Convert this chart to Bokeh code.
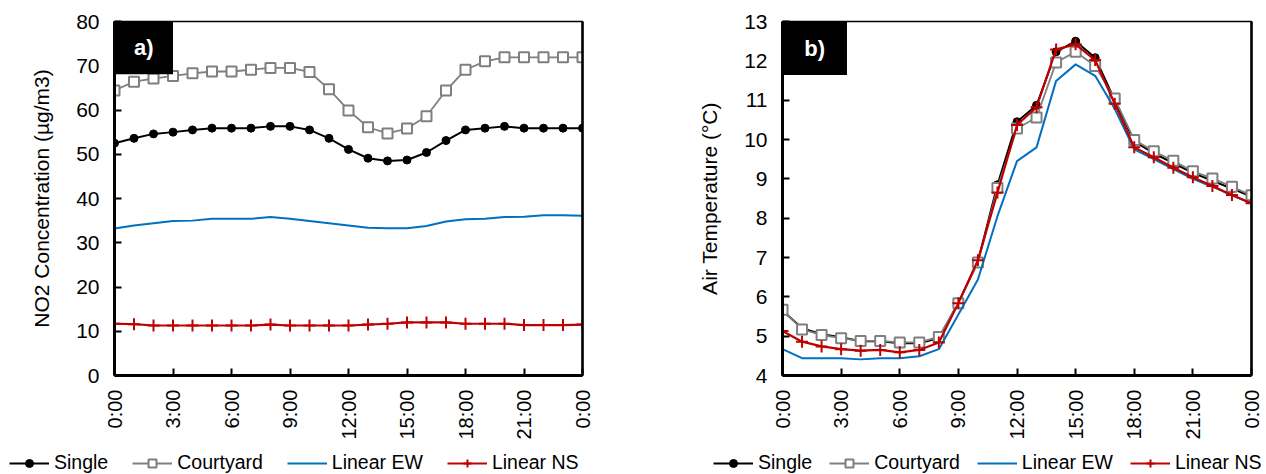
from bokeh.plotting import figure
from bokeh.models import Range1d, FixedTicker, BoxAnnotation, Label, Legend, LegendItem, LinearAxis
from bokeh.layouts import row, column
from bokeh.embed import file_html
from bokeh.resources import INLINE
import math

# ---------------- data ----------------
hours = list(range(25))
tick_hours = [0, 3, 6, 9, 12, 15, 18, 21, 24]
tick_labels = ["0:00", "3:00", "6:00", "9:00", "12:00", "15:00", "18:00", "21:00", "0:00"]
series_names = ["Single", "Courtyard", "Linear EW", "Linear NS"]

no2_single = [52.5, 53.6, 54.6, 55.0, 55.5, 55.9, 55.9, 55.9, 56.3, 56.3, 55.5, 53.6, 51.1,
              49.1, 48.5, 48.7, 50.4, 53.1, 55.5, 55.9, 56.3, 55.9, 55.9, 55.9, 55.9]
no2_courtyard = [64.4, 66.4, 67.1, 67.7, 68.3, 68.7, 68.7, 69.1, 69.5, 69.5, 68.6, 64.7, 59.9,
                 56.1, 54.7, 55.8, 58.6, 64.4, 69.1, 71.0, 71.9, 71.9, 71.9, 71.9, 71.9]
no2_ew = [33.2, 33.9, 34.4, 34.9, 35.0, 35.4, 35.4, 35.4, 35.8, 35.4, 34.9, 34.4, 33.9,
          33.4, 33.3, 33.3, 33.8, 34.8, 35.3, 35.4, 35.8, 35.9, 36.2, 36.2, 36.1]
no2_ns = [11.7, 11.6, 11.3, 11.3, 11.3, 11.3, 11.3, 11.3, 11.5, 11.3, 11.3, 11.3, 11.3,
          11.5, 11.7, 12.0, 12.0, 12.0, 11.7, 11.7, 11.7, 11.4, 11.4, 11.4, 11.5]

t_single = [5.65, 5.2, 5.05, 4.97, 4.87, 4.87, 4.82, 4.82, 4.95, 5.85, 6.9, 8.85, 10.45,
            10.87, 12.23, 12.5, 12.08, 11.0, 9.95, 9.65, 9.4, 9.15, 8.95, 8.75, 8.55]
t_courtyard = [5.67, 5.17, 5.03, 4.95, 4.88, 4.88, 4.84, 4.84, 4.98, 5.84, 6.87, 8.77, 10.28,
               10.56, 11.96, 12.23, 11.87, 11.04, 9.99, 9.70, 9.46, 9.19, 9.01, 8.8, 8.58]
t_ew = [4.67, 4.44, 4.44, 4.44, 4.41, 4.44, 4.44, 4.49, 4.67, 5.55, 6.44, 8.05, 9.45,
        9.8, 11.49, 11.91, 11.62, 10.78, 9.75, 9.5, 9.25, 9.0, 8.8, 8.58, 8.37]
t_ns = [5.13, 4.86, 4.74, 4.67, 4.63, 4.65, 4.59, 4.65, 4.84, 5.84, 6.93, 8.65, 10.37,
        10.82, 12.29, 12.42, 12.02, 10.91, 9.8, 9.55, 9.28, 9.04, 8.82, 8.59, 8.38]

FONT = "Liberation Sans"
MAIN_H = 444
LEG_H = 30

STYLE = {
    "single_line": dict(line_color="black", line_width=2),
    "single_mark": dict(marker="circle", size=8, fill_color="black", line_color="black"),
    "court_line": dict(line_color="#7f7f7f", line_width=1.8),
    "court_mark": dict(marker="square", size=10, fill_color="white", line_color="#7f7f7f", line_width=2),
    "ew_line": dict(line_color="#0070C0", line_width=2),
    "ns_line": dict(line_color="#C00000", line_width=2.2),
    "ns_mark": dict(marker="cross", size=12, line_color="#C00000", line_width=2),
}


def draw_series(p, x, data):
    single, courtyard, ew, ns = data
    l1 = p.line(x, single, **STYLE["single_line"])
    s1 = p.scatter(x, single, **STYLE["single_mark"])
    l2 = p.line(x, courtyard, **STYLE["court_line"])
    s2 = p.scatter(x, courtyard, **STYLE["court_mark"])
    l3 = p.line(x, ew, **STYLE["ew_line"])
    l4 = p.line(x, ns, **STYLE["ns_line"])
    s4 = p.scatter(x, ns, **STYLE["ns_mark"])
    return [[l1, s1], [l2, s2], [l3], [l4, s4]]


def make_panel(width, y_range, y_ticks, ylabel, data, tag, tag_box, borders):
    left, right, top, bottom = borders
    p = figure(width=width, height=MAIN_H, x_range=Range1d(0, 24), y_range=y_range,
               output_backend="svg", toolbar_location=None,
               min_border_left=left, min_border_right=right,
               min_border_top=top, min_border_bottom=bottom)
    p.xgrid.visible = False
    p.ygrid.visible = False
    p.outline_line_color = "black"
    p.outline_line_width = 1.5
    p.background_fill_color = "white"
    p.border_fill_color = "white"

    xa = p.xaxis[0]
    xa.ticker = FixedTicker(ticks=tick_hours)
    xa.major_label_overrides = {h: l for h, l in zip(tick_hours, tick_labels)}
    xa.major_label_orientation = math.pi / 2
    xa.major_label_text_font = FONT
    xa.major_label_text_font_size = "20px"
    xa.major_label_text_color = "black"
    xa.major_label_standoff = 14
    xa.major_tick_in = 7
    xa.major_tick_out = 0
    xa.minor_tick_line_color = None
    xa.axis_line_width = 3
    xa.major_tick_line_width = 2

    ya = p.yaxis[0]
    ya.ticker = FixedTicker(ticks=y_ticks)
    ya.major_label_text_font = FONT
    ya.major_label_text_font_size = "21px"
    ya.major_label_text_color = "black"
    ya.major_label_standoff = 15
    ya.major_tick_in = 7
    ya.major_tick_out = 0
    ya.minor_tick_line_color = None
    ya.axis_line_width = 3
    ya.major_tick_line_width = 2
    ya.axis_label = ylabel
    ya.axis_label_text_font = FONT
    ya.axis_label_text_font_size = "21px"
    ya.axis_label_text_font_style = "normal"
    ya.axis_label_text_color = "black"
    ya.axis_label_standoff = 20

    ra = LinearAxis(ticker=FixedTicker(ticks=[]), major_label_text_font_size="0px",
                    major_tick_line_color=None, minor_tick_line_color=None,
                    axis_line_width=2.5)
    p.add_layout(ra, "right")

    draw_series(p, hours, data)

    bx0, bx1, by0, by1 = tag_box
    p.add_layout(BoxAnnotation(left=bx0, right=bx1, bottom=by0, top=by1,
                               fill_color="black", fill_alpha=1, line_color=None))
    p.add_layout(Label(x=(bx0 + bx1) / 2, y=(by0 + by1) / 2, text=tag, text_align="center",
                       text_baseline="middle", text_color="white", text_font=FONT,
                       text_font_style="bold", text_font_size="22px"))
    return p


def make_legend(width, x_offset, data, spacing):
    # the series are drawn again here (far outside the visible y range) only so that
    # the legend has renderers to take its glyph styles from
    q = figure(width=width, height=LEG_H, x_range=Range1d(0, 24), y_range=Range1d(-1000, -999),
               output_backend="svg", toolbar_location=None,
               x_axis_location=None, y_axis_location=None,
               min_border_left=0, min_border_right=0, min_border_top=0, min_border_bottom=0)
    q.xgrid.visible = False
    q.ygrid.visible = False
    q.outline_line_color = None
    q.background_fill_color = "white"
    q.border_fill_color = "white"
    rends = draw_series(q, hours, data)
    legend = Legend(items=[LegendItem(label=n, renderers=r) for n, r in zip(series_names, rends)],
                    orientation="horizontal", location=(x_offset, 0),
                    glyph_width=40, glyph_height=20, label_standoff=5, spacing=spacing,
                    padding=0, margin=0, border_line_color=None,
                    background_fill_alpha=0, label_text_font=FONT,
                    label_text_font_size="19.5px", label_text_color="black")
    q.add_layout(legend)
    return q


p1 = make_panel(640, Range1d(0, 80), [0, 10, 20, 30, 40, 50, 60, 70, 80],
                "NO2 Concentration (µg/m3)",
                (no2_single, no2_courtyard, no2_ew, no2_ns), "a)",
                (0, 3.0, 68.1, 80), (114, 58, 21, MAIN_H - 378))
p2 = make_panel(626, Range1d(4, 13), list(range(4, 14)),
                "Air Temperature (°C)",
                (t_single, t_courtyard, t_ew, t_ns), "b)",
                (0, 3.3, 11.64, 13), (142, 15, 17, MAIN_H - 375))
g1 = make_legend(640, 9, (no2_single, no2_courtyard, no2_ew, no2_ns), 24)
g2 = make_legend(626, 73, (t_single, t_courtyard, t_ew, t_ns), 17)

layout = column(row(p1, p2), row(g1, g2))
open("out.html", "w").write(file_html(layout, INLINE))
